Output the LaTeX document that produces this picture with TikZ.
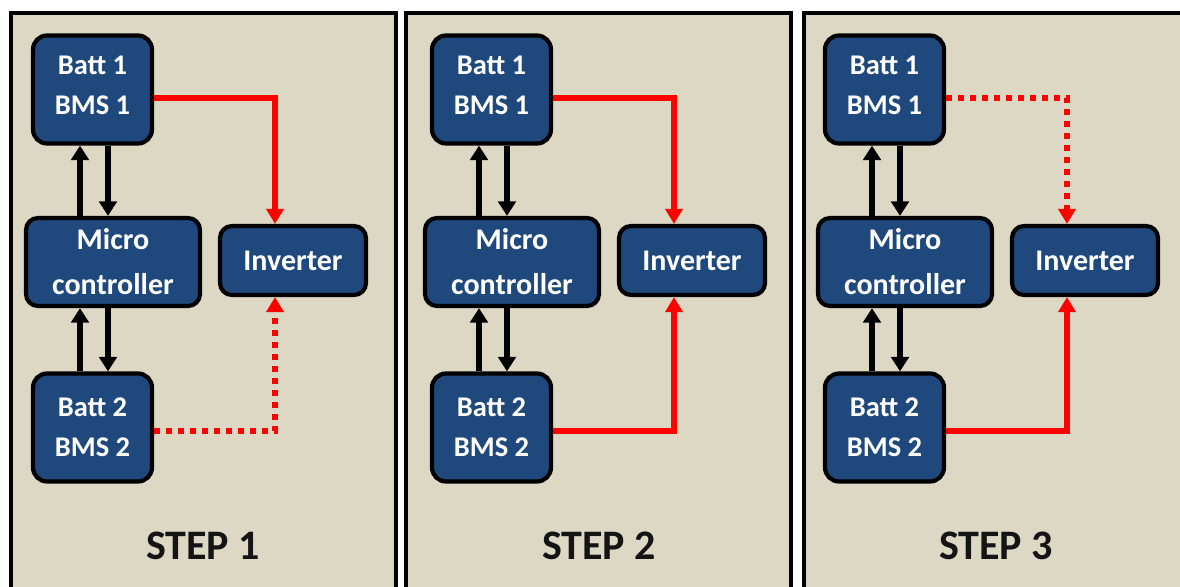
\documentclass[tikz,border=0pt]{standalone}
\usepackage{fontspec}
\setmainfont{Carlito}
\usetikzlibrary{arrows.meta}

\definecolor{panelbg}{HTML}{DDD8C4}
\definecolor{unitblue}{HTML}{1F497D}
\definecolor{feedred}{HTML}{FF0000}
\definecolor{labelink}{HTML}{141414}

\tikzset{
  frame/.style={draw=black, line width=4pt, fill=panelbg},
  unit/.style={draw=black, line width=4.2pt, fill=unitblue, text=white,
    align=center, inner sep=0pt},
  battbox/.style={unit, rounded corners=14pt, minimum width=119pt,
    minimum height=108pt, font=\fontsize{28.5}{40}\selectfont\bfseries},
  mcubox/.style={unit, rounded corners=12pt, minimum width=174pt,
    minimum height=88pt, font=\fontsize{30}{45}\selectfont\bfseries},
  invbox/.style={unit, rounded corners=12pt, minimum width=146pt,
    minimum height=69pt, font=\fontsize{30}{36}\selectfont\bfseries},
  steplabel/.style={text=labelink, inner sep=0pt,
    font=\fontsize{42}{50}\selectfont\bfseries},
  ctl/.style={draw=black, line width=5.8pt,
    -{Triangle[width=17.5pt,length=14.5pt]}},
  live/.style={draw=feedred, line width=5.2pt,
    -{Triangle[width=17pt,length=15pt]}},
  idle/.style={live, line width=5.8pt, dash pattern=on 6pt off 6pt},
}

% One step of the switching sequence:
% #1 name prefix, #2 x offset of the blocks, #3/#4 frame left/right,
% #5 style of the Batt 1 feed, #6 style of the Batt 2 feed,
% #7 x of the caption, #8 step number
\newcommand\steppanel[8]{%
  \draw[frame] (#3,13) rectangle (#4,620);
  \begin{scope}[xshift=#2pt]
    \node[battbox, text depth=8pt] (#1-b1) at (92.5,89.5) {Batt 1\\BMS 1};
    \node[mcubox]  (#1-mcu) at (113,262)    {Micro\\controller};
    \node[invbox]  (#1-inv) at (293,260.5)  {Inverter};
    \node[battbox] (#1-b2)  at (92.5,427.5) {Batt 2\\BMS 2};
  \end{scope}
  % control links between the batteries and the microcontroller
  \draw[ctl] ([xshift=-12.5pt]#1-b1.south |- #1-mcu.north) -- ([xshift=-12.5pt]#1-b1.south);
  \draw[ctl] ([xshift=15.5pt]#1-b1.south) -- ([xshift=15.5pt]#1-b1.south |- #1-mcu.north);
  \draw[ctl] ([xshift=-12.5pt]#1-b2.north) -- ([xshift=-12.5pt]#1-b2.north |- #1-mcu.south);
  \draw[ctl] ([xshift=15.5pt]#1-b2.north |- #1-mcu.south) -- ([xshift=15.5pt]#1-b2.north);
  % power feeds to the inverter
  \draw[#5] ([yshift=-8.5pt]#1-b1.east) -| ([xshift=-18pt]#1-inv.north);
  \draw[#6] ([yshift=-3.5pt]#1-b2.east) -| ([xshift=-18pt]#1-inv.south);
  \node[steplabel] (#1-cap) at (#7,546) {STEP #8};
}

\begin{document}
\begin{tikzpicture}[x=1pt, y=-1pt]
  \clip (0,0) rectangle (1180,586);
  \fill[white] (0,0) rectangle (1180,586);
  \steppanel{s1}{0}{11}{396}{live}{idle}{203}{1}
  \steppanel{s2}{399}{406}{791}{live}{live}{599}{2}
  \steppanel{s3}{792}{803.5}{1192}{idle}{live}{996}{3}
\end{tikzpicture}
\end{document}
